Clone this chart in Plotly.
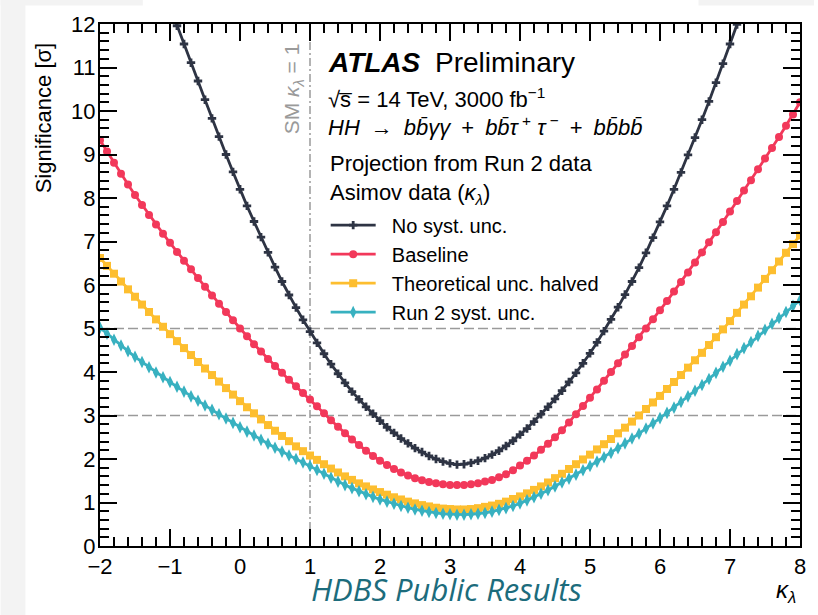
import plotly.graph_objects as go

# kappa_lambda scan points (step 0.1 from -2 to 8)
KAPPA = [round(-2.0 + 0.1 * i, 1) for i in range(101)]

# Expected significance [sigma] for each scenario at the scan points
NO_SYST = [None] * 10 + [
    12.40, 11.96, 11.54, 11.11, 10.69, 10.26, 9.83, 9.41, 9.00, 8.60,
    8.20, 7.82, 7.46, 7.10, 6.75, 6.41, 6.08, 5.77, 5.48, 5.20,
    4.93, 4.67, 4.42, 4.18, 3.96, 3.75, 3.55, 3.37, 3.20, 3.04,
    2.88, 2.73, 2.60, 2.47, 2.36, 2.25, 2.16, 2.07, 2.00, 1.94,
    1.90, 1.87, 1.88, 1.91, 1.96, 2.02, 2.10, 2.19, 2.30, 2.42,
    2.56, 2.70, 2.86, 3.03, 3.20, 3.38, 3.57, 3.77, 3.98, 4.20,
    4.43, 4.68, 4.94, 5.21, 5.49, 5.78, 6.08, 6.40, 6.74, 7.09,
    7.45, 7.82, 8.20, 8.59, 8.99, 9.39, 9.80, 10.22, 10.65, 11.09,
    11.54, 11.99, 12.45,
] + [None] * 8

BASELINE = [
    9.33, 9.07, 8.81, 8.56, 8.31, 8.07, 7.84, 7.61, 7.39, 7.18,
    6.97, 6.76, 6.56, 6.36, 6.16, 5.96, 5.76, 5.57, 5.38, 5.19,
    5.00, 4.82, 4.64, 4.47, 4.30, 4.14, 3.98, 3.82, 3.67, 3.52,
    3.37, 3.21, 3.05, 2.89, 2.74, 2.59, 2.45, 2.32, 2.19, 2.07,
    1.96, 1.86, 1.77, 1.69, 1.62, 1.56, 1.51, 1.47, 1.44, 1.42,
    1.40, 1.40, 1.40, 1.42, 1.44, 1.48, 1.52, 1.58, 1.65, 1.74,
    1.85, 1.96, 2.08, 2.21, 2.35, 2.50, 2.66, 2.84, 3.03, 3.22,
    3.41, 3.60, 3.80, 4.00, 4.20, 4.40, 4.60, 4.80, 5.00, 5.21,
    5.42, 5.63, 5.85, 6.07, 6.29, 6.52, 6.75, 6.98, 7.21, 7.45,
    7.69, 7.93, 8.17, 8.41, 8.66, 8.91, 9.15, 9.40, 9.66, 9.92,
    10.20,
]

THEORY_HALVED = [
    6.62, 6.44, 6.26, 6.08, 5.90, 5.73, 5.55, 5.38, 5.21, 5.04,
    4.87, 4.71, 4.55, 4.39, 4.23, 4.08, 3.93, 3.78, 3.63, 3.48,
    3.33, 3.19, 3.05, 2.91, 2.78, 2.65, 2.53, 2.41, 2.29, 2.18,
    2.08, 1.98, 1.88, 1.78, 1.69, 1.60, 1.52, 1.44, 1.37, 1.30,
    1.24, 1.18, 1.12, 1.07, 1.02, 0.98, 0.94, 0.91, 0.88, 0.86,
    0.85, 0.84, 0.84, 0.85, 0.87, 0.90, 0.93, 0.97, 1.02, 1.08,
    1.14, 1.21, 1.29, 1.37, 1.46, 1.56, 1.66, 1.77, 1.88, 1.99,
    2.10, 2.22, 2.34, 2.46, 2.59, 2.72, 2.86, 3.00, 3.15, 3.30,
    3.45, 3.61, 3.77, 3.93, 4.10, 4.27, 4.44, 4.62, 4.80, 4.98,
    5.17, 5.36, 5.55, 5.74, 5.94, 6.14, 6.34, 6.54, 6.74, 6.94,
    7.14,
]

RUN2_SYST = [
    5.02, 4.88, 4.74, 4.61, 4.48, 4.35, 4.23, 4.11, 3.99, 3.88,
    3.77, 3.66, 3.55, 3.44, 3.34, 3.23, 3.13, 3.03, 2.93, 2.83,
    2.73, 2.63, 2.54, 2.44, 2.35, 2.26, 2.17, 2.08, 2.00, 1.92,
    1.84, 1.75, 1.66, 1.57, 1.48, 1.40, 1.33, 1.26, 1.19, 1.13,
    1.07, 1.02, 0.97, 0.92, 0.88, 0.84, 0.81, 0.78, 0.76, 0.74,
    0.73, 0.72, 0.72, 0.73, 0.74, 0.76, 0.79, 0.83, 0.87, 0.92,
    0.98, 1.05, 1.12, 1.20, 1.28, 1.37, 1.46, 1.55, 1.64, 1.74,
    1.84, 1.94, 2.04, 2.14, 2.25, 2.36, 2.47, 2.58, 2.70, 2.82,
    2.94, 3.06, 3.18, 3.31, 3.44, 3.57, 3.70, 3.84, 3.98, 4.12,
    4.26, 4.41, 4.55, 4.69, 4.83, 4.97, 5.11, 5.24, 5.38, 5.52,
    5.65,
]

SERIES = [
    ("No syst. unc.", NO_SYST, "#2e3444", "cross", 7),
    ("Baseline", BASELINE, "#f2385a", "circle", 8),
    ("Theoretical unc. halved", THEORY_HALVED, "#fdbe2f", "square", 8),
    ("Run 2 syst. unc.", RUN2_SYST, "#38b1c0", "diamond-tall", 9),
]

X_TICKS = [-2, -1, 0, 1, 2, 3, 4, 5, 6, 7, 8]
Y_TICKS = list(range(0, 13))
REF_LEVELS = [3, 5]   # 3 sigma and 5 sigma guide lines
SM_KAPPA = 1

FONT = "Liberation Sans, Arial, Helvetica, sans-serif"
NB = "\u00a0"
EN = "\u2002"

fig = go.Figure()

for name, vals, color, symbol, size in SERIES:
    fig.add_trace(go.Scatter(
        x=KAPPA, y=vals, name=NB * 2 + name, legendgroup=name,
        mode="lines+markers",
        line=dict(color=color, width=2.8),
        marker=dict(symbol=symbol, size=size, color=color,
                    line=dict(width=0)),
    ))

# horizontal significance guide lines
for lvl in REF_LEVELS:
    fig.add_shape(type="line", xref="paper", yref="y", x0=0, x1=1,
                  y0=lvl, y1=lvl, layer="below",
                  line=dict(color="#9a9a9a", width=1.5, dash="10px,4px"))

# SM kappa_lambda = 1 marker line
fig.add_shape(type="line", xref="x", yref="paper", x0=SM_KAPPA, x1=SM_KAPPA,
              y0=0, y1=1, layer="below",
              line=dict(color="#9a9a9a", width=1.5, dash="8px,3px,2px,3px"))

# light grey slide border strips
GREY = "#f3f3f3"
for x0, x1, y0, y1 in [(-0.142, -0.1065, -0.135, 1.05),
                       (-0.142, 0.0611, 1.0354, 1.05),
                       (0.855, 1.02, 1.0354, 1.05)]:
    fig.add_shape(type="rect", xref="paper", yref="paper",
                  x0=x0, x1=x1, y0=y0, y1=y1,
                  fillcolor=GREY, line=dict(width=0), layer="below")

axis_common = dict(
    ticks="inside", ticklen=17, tickwidth=2, tickcolor="black",
    showline=True, linewidth=2, linecolor="black", mirror="ticks",
    showgrid=False, zeroline=False,
    tickfont=dict(size=22, color="black", family=FONT),
)

fig.update_xaxes(range=[-2, 8], tickmode="array", tickvals=X_TICKS,
                 minor=dict(dtick=0.2, tick0=0, ticks="inside", ticklen=9,
                            tickwidth=1.5, tickcolor="black"),
                 **axis_common)
fig.update_yaxes(range=[0, 12], tickmode="array", tickvals=Y_TICKS,
                 ticklabelstandoff=-2,
                 minor=dict(dtick=0.2, tick0=0, ticks="inside", ticklen=9,
                            tickwidth=1.5, tickcolor="black"),
                 **axis_common)

TX = 0.3224
annotations = [
    dict(text="<b><i>ATLAS</i></b>", x=TX, y=0.9263, size=28),
    dict(text="Preliminary", x=0.4755, y=0.9263, size=28),
    dict(text="√s̅ = 14 TeV, 3000 fb<sup>−1</sup>", x=TX, y=0.858, size=22),
    dict(text=("<i>HH</i>" + EN + "→" + EN + "<i>bb̄γγ</i>" + EN + "+" + EN +
               "<i>bb̄τ</i><sup>" + NB + "+</sup>" + NB + "<i>τ</i><sup>" + NB + "−</sup>" +
               EN + "+" + EN + "<i>bb̄bb̄</i>"),
         x=TX, y=0.8045, size=22),
    dict(text="Projection from Run 2 data", x=TX + 0.004, y=0.733, size=22),
    dict(text="Asimov data (<i>κ</i><sub><i>λ</i></sub>)", x=TX + 0.004, y=0.674, size=22),
]
for a in annotations:
    fig.add_annotation(text=a["text"], x=a["x"], y=a["y"], xref="paper",
                       yref="paper", xanchor="left", yanchor="middle",
                       showarrow=False,
                       font=dict(size=a["size"], color="black", family=FONT))

# SM label along the vertical line
fig.add_annotation(text="SM <i>κ</i><sub><i>λ</i></sub> = 1", x=0.77, y=0.8766,
                   xref="x", yref="paper", textangle=-90, showarrow=False,
                   xanchor="center", yanchor="middle",
                   font=dict(size=21, color="#9a9a9a", family=FONT))

# axis titles
fig.add_annotation(text="Significance [σ]", x=-0.0795, y=0.82,
                   xref="paper", yref="paper", textangle=-90, showarrow=False,
                   xanchor="center", yanchor="middle",
                   font=dict(size=22, color="black", family=FONT))
fig.add_annotation(text="<i>κ</i><sub><i>λ</i></sub>", x=0.980, y=-0.088,
                   xref="paper", yref="paper", showarrow=False,
                   xanchor="center", yanchor="middle",
                   font=dict(size=24, color="black", family=FONT))

# footer
fig.add_annotation(text="<i>HDBS Public Results</i>", x=0.4957, y=-0.126,
                   xref="paper", yref="paper", showarrow=False,
                   xanchor="center", yanchor="bottom",
                   font=dict(size=31, color="#1c6c7c", family="Open Sans, sans-serif"))

fig.update_layout(
    width=818, height=615,
    margin=dict(l=100, r=14, t=24, b=69),
    paper_bgcolor="white", plot_bgcolor="white",
    font=dict(family=FONT, size=20, color="black"),
    showlegend=True,
    legend=dict(x=0.3224, y=0.652, xanchor="left", yanchor="top",
                bgcolor="rgba(0,0,0,0)", borderwidth=0,
                font=dict(size=20, color="black", family=FONT),
                tracegroupgap=0, itemwidth=45),
)

fig.write_html("out.html")
